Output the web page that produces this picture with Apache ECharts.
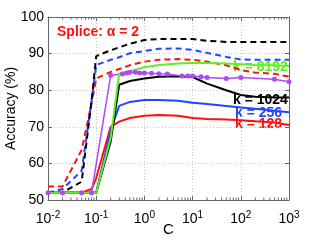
<!DOCTYPE html>
<html><head><meta charset="utf-8">
<script src="https://cdn.jsdelivr.net/npm/echarts@6/dist/echarts.min.js"></script>
<style>html,body{margin:0;padding:0;background:#fff}#c{width:319px;height:240px}</style>
</head><body><div id="c"></div>
<script>
// ---- data ----
const C = [0.01, 0.02, 0.05, 0.08, 0.1, 0.2, 0.3, 0.5, 1, 2, 5, 10, 20, 50, 100, 200, 500, 1000];
const k1024Dashed = [52, 52, 55, 77, 89.3, 90.9, 91.7, 92.7, 93.7, 94, 94, 94, 93.5, 93.2, 93.2, 93.2, 93.2, 93.2];
const k256Dashed  = [52, 53, 58, 77, 86.9, 88.3, 89.0, 90.1, 90.7, 91.3, 91.4, 91.0, 90.2, 89.1, 88.4, 88.3, 88.3, 88.3];
const k128Dashed  = [53.7, 53.7, 63.7, 76.4, 83.2, 85, 85.8, 86.8, 87.8, 88.3, 88.5, 88.3, 87.8, 86.8, 85.5, 84.8, 84.5, 83.7];
const k1024 = [52, 52, 52, 52, 52, 66, 81.5, 82.5, 83.2, 83.7, 83.8, 83.6, 81.8, 80, 78.7, 78.2, 78, 78];
const k256  = [52, 52, 52, 52, 52, 69, 75.7, 76.8, 77.3, 77.3, 77.1, 76.6, 76.2, 75.7, 75.3, 74.9, 74.4, 74.0];
const k128  = [52, 52, 52, 53, 56, 70, 71.4, 72.4, 73, 73.2, 73, 72.4, 72.1, 72, 71.8, 71.5, 71.2, 70.5];
const k8192 = [52, 52, 52, 52, 52, 67, 84.6, 85.2, 86.3, 86.9, 87.3, 87.4, 87.4, 87.3, 87.1, 86.9, 86.8, 86.6];
const C_purple = [0.01, 0.02, 0.05, 0.08, 0.2, 0.35, 0.43, 0.5, 0.65, 0.8, 1, 1.4, 2, 3, 6, 8, 10, 15, 20, 50, 100, 500, 1000];
const purple   = [52, 52, 52, 52, 84.1, 84.4, 84.7, 84.9, 84.9, 84.7, 84.7, 84.6, 84.5, 84.4, 83.9, 83.9, 83.9, 83.7, 83.5, 83.2, 83.5, 83, 82.3];
const xTicks = [0.01, 0.1, 1, 10, 100, 1000];
const yTicks = [50, 60, 70, 80, 90, 100];
const minorTicks = [];
[0.01, 0.1, 1, 10, 100].forEach(d => { for (let m = 2; m <= 9; m++) minorTicks.push(+(d * m).toPrecision(3)); });
const title = 'Splice: α = 2';
const seriesLabels = ['k = 8192', 'k = 1024', 'k = 256', 'k = 128'];

// ---- chart ----
const pair = (xs, ys) => xs.map((x, i) => [x, ys[i]]);
const FONT = '"Liberation Sans", Arial, sans-serif';
const chart = echarts.init(document.getElementById('c'), null, {renderer: 'canvas'});
const line = (data, color, dashed, extra) => Object.assign({
  type: 'line', data, showSymbol: false, symbol: 'none', animation: false,
  lineStyle: {color, width: 2, type: dashed ? [6, 4] : 'solid'}, itemStyle: {color}, silent: true
}, extra || {});
const axisCommon = {
  axisLine: {show: true, lineStyle: {color: '#666', width: 1}},
  axisTick: {show: true, inside: true, length: 4, lineStyle: {color: '#666'}},
};
chart.setOption({
  animation: false,
  grid: {left: 48, right: 30, top: 17, bottom: 40, containLabel: false, outerBoundsMode: 'none'},
  xAxis: [
    Object.assign({type: 'log', min: 0.01, max: 1000, logBase: 10,
      name: 'C', nameLocation: 'middle', nameGap: 22, nameMoveOverlap: false,
      nameTextStyle: {fontSize: 15, color: '#000', fontFamily: FONT},
      axisLabel: {fontFamily: FONT, fontSize: 14, color: '#000', margin: 10,
        formatter: v => '10{s|' + Math.round(Math.log10(v)) + '}',
        rich: {s: {fontSize: 10, fontFamily: FONT, color: '#000', verticalAlign: 'bottom', padding: [0, 0, 9, 0]}}},
      splitLine: {show: true, lineStyle: {color: '#c8c8c8', type: [1, 2], width: 1}}
    }, axisCommon),
    Object.assign({type: 'log', min: 0.01, max: 1000, position: 'top', axisLabel: {show: false}, splitLine: {show: false}}, axisCommon)
  ],
  yAxis: [
    Object.assign({type: 'value', min: 50, max: 100, interval: 10,
      name: 'Accuracy (%)', nameLocation: 'middle', nameGap: 30, nameMoveOverlap: false,
      nameTextStyle: {fontSize: 14, color: '#000', fontFamily: FONT},
      axisLabel: {fontFamily: FONT, fontSize: 14, color: '#000', margin: 4},
      splitLine: {show: true, lineStyle: {color: '#c8c8c8', type: [1, 2], width: 1}}
    }, axisCommon),
    Object.assign({type: 'value', min: 50, max: 100, interval: 10, position: 'right', axisLabel: {show: false}, splitLine: {show: false}}, axisCommon)
  ],
  series: [
    line(pair(C, k128Dashed), '#ff1010', true),
    line(pair(C, k256Dashed), '#2244ff', true),
    line(pair(C, k1024Dashed), '#000000', true),
    line(pair(C, k128), '#ff1010', false),
    line(pair(C, k256), '#2244ff', false),
    line(pair(C, k1024), '#000000', false),
    line(pair(C_purple, purple), '#b048f8', false, {showSymbol: true, symbol: 'circle', symbolSize: 5, lineStyle: {color: '#b048f8', width: 1.5}}),
    line(pair(C, k8192), '#5ef020', false),
    {type: 'custom', silent: true, clip: false, animation: false, data: minorTicks.map(v => [v]),
      encode: {x: 0},
      renderItem: (params, api) => {
        const v = api.value(0);
        const p0 = api.coord([v, 50]), p1 = api.coord([v, 100]);
        const st = {stroke: '#666', lineWidth: 1};
        return {type: 'group', children: [
          {type: 'line', shape: {x1: p0[0], y1: p0[1], x2: p0[0], y2: p0[1] - 2.5}, style: st},
          {type: 'line', shape: {x1: p1[0], y1: p1[1], x2: p1[0], y2: p1[1] + 2.5}, style: st}
        ]};
      }}
  ],
  graphic: [
    {type: 'text', x: 57, y: 32, style: {text: title, fill: '#ff1010', font: 'bold 14px ' + FONT, textVerticalAlign: 'middle'}},
    {type: 'text', x: 233, y: 67, style: {text: seriesLabels[0], fill: '#5ef020', font: 'bold 14px ' + FONT, textVerticalAlign: 'middle'}},
    {type: 'text', x: 233, y: 100, style: {text: seriesLabels[1], fill: '#000', font: 'bold 14px ' + FONT, textVerticalAlign: 'middle'}},
    {type: 'text', x: 235, y: 113, style: {text: seriesLabels[2], fill: '#2244ff', font: 'bold 14px ' + FONT, textVerticalAlign: 'middle'}},
    {type: 'text', x: 235, y: 124, style: {text: seriesLabels[3], fill: '#ff1010', font: 'bold 14px ' + FONT, textVerticalAlign: 'middle'}}
  ]
});
</script></body></html>
